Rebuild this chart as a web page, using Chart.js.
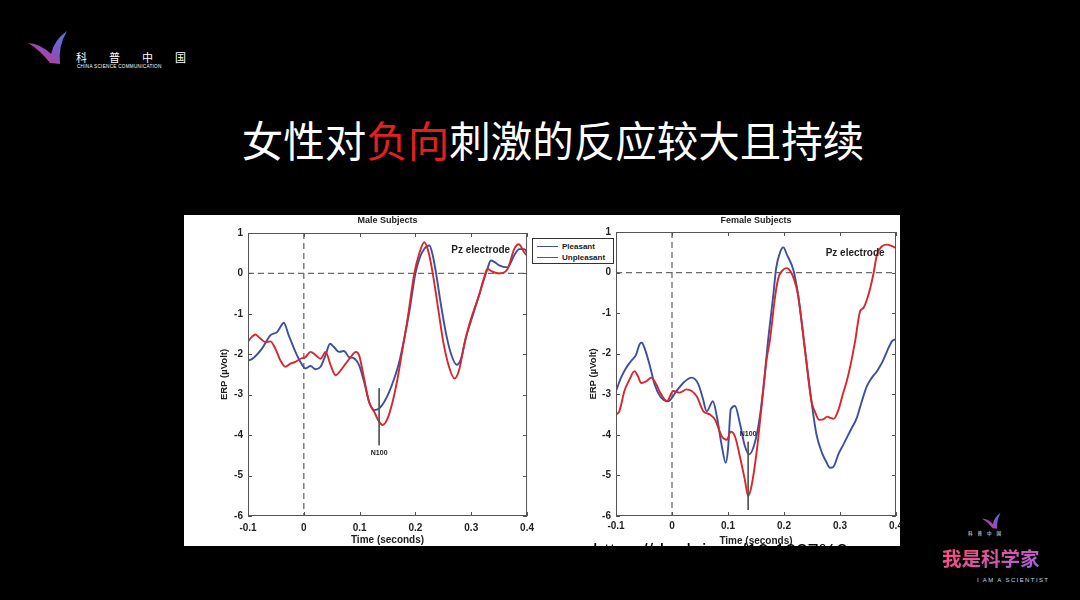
<!DOCTYPE html>
<html>
<head>
<meta charset="utf-8">
<script src="https://cdn.jsdelivr.net/npm/chart.js@4"></script>
<style>
  html, body { margin: 0; padding: 0; background: #000; }
  body { width: 1080px; height: 600px; position: relative; overflow: hidden; font-family: "Liberation Sans", Arial, sans-serif; }
  .title { position: absolute; left: 0; width: 1106px; top: 113px; text-align: center; color: #fff;
           font-family: "Noto Sans CJK SC", sans-serif; font-size: 41.5px; line-height: 52px; }
  .title .neg { color: #e3201f; }
  .panel { position: absolute; left: 184px; top: 215px; width: 716px; height: 331px; background: #fff; overflow: hidden; }
  .panel canvas { position: absolute; top: 0; }
  #maleChart { left: 0; }
  #femaleChart { left: 356px; }
  .url { position: absolute; left: 409px; top: 325px; font-size: 20px; line-height: 22px; color: #000; white-space: nowrap; z-index: 3; }
  .legend { position: absolute; left: 348px; top: 23px; width: 80px; height: 24px; border: 1px solid #333; background: #fff; z-index: 2; }
  .legend div { position: absolute; left: 4px; font: bold 8px "Liberation Sans", Arial, sans-serif; color: #222; white-space: nowrap; }
  .legend span { display: inline-block; width: 21px; height: 0; border-top: 1.5px solid; vertical-align: middle; margin-right: 4px; }
  .logo-txt { position: absolute; color: #fff; white-space: nowrap; line-height: 1; }
</style>
</head>
<body>
<!-- top left logo -->
<svg style="position:absolute;left:24px;top:28px" width="50" height="40" viewBox="0 0 50 40">
  <defs>
    <linearGradient id="wg" x1="0" y1="1" x2="1" y2="0">
      <stop offset="0" stop-color="#e0336f"/>
      <stop offset="0.5" stop-color="#8a4fc0"/>
      <stop offset="1" stop-color="#3f86e8"/>
    </linearGradient>
  </defs>
  <path d="M4,15 Q16,22 26,35 L36,36 Q34,18 43,3 Q30,12 27,26 Q17,16 4,15 Z" fill="url(#wg)"/>
</svg>
<div class="logo-txt" style="left:76px;top:52px;font-family:'Noto Sans CJK SC';font-size:11px;letter-spacing:22px;">科普中国</div>
<div class="logo-txt" style="left:77px;top:65px;font-size:4.6px;letter-spacing:0.3px;">CHINA SCIENCE COMMUNICATION</div>

<div class="title">女性对<span class="neg">负向</span>刺激的反应较大且持续</div>

<div class="panel">
  <canvas id="maleChart" width="356" height="331"></canvas>
  <canvas id="femaleChart" width="380" height="331"></canvas>
  <div class="legend" id="legend"></div>
  <div class="url">https://dx.doi.org/10.1037%2</div>
</div>

<!-- bottom right logo -->
<svg style="position:absolute;left:980px;top:511px" width="24" height="20" viewBox="0 0 50 40">
  <path d="M4,15 Q16,22 26,35 L36,36 Q34,18 43,3 Q30,12 27,26 Q17,16 4,15 Z" fill="url(#wg)"/>
</svg>
<div class="logo-txt" style="left:968px;top:531px;font-family:'Noto Sans CJK SC';font-size:4.5px;letter-spacing:5px;">科普中国</div>
<div class="logo-txt" style="left:942px;top:548px;font-family:'Noto Sans CJK SC';font-weight:700;font-size:19.5px;
  background:linear-gradient(160deg,#f2508c 30%,#9a66e6);-webkit-background-clip:text;background-clip:text;color:transparent;">我是科学家</div>
<div class="logo-txt" style="left:977px;top:577px;font-size:6px;letter-spacing:1.4px;color:#c9d4f0;">I AM A SCIENTIST</div>

<script>
// --- ERP data (time in s, amplitude in µV) ---
const timeTicks = [-0.1, 0, 0.1, 0.2, 0.3, 0.4];
const erpTicks = [1, 0, -1, -2, -3, -4, -5, -6];
const seriesNames = ['Pleasant', 'Unpleasant'];
const seriesColors = ['#3d4f9f', '#d8262c'];

const maleTimesP = [-0.100,-0.093,-0.075,-0.060,-0.048,-0.039,-0.036,-0.027,-0.015,-0.006,0.003,0.012,0.021,0.030,0.039,0.047,0.054,0.063,0.072,0.081,0.090,0.099,0.108,0.117,0.126,0.135,0.144,0.153,0.162,0.171,0.180,0.189,0.200,0.207,0.216,0.225,0.231,0.237,0.246,0.255,0.264,0.274,0.282,0.290,0.299,0.314,0.329,0.335,0.342,0.350,0.365,0.377,0.386,0.395,0.400];
const malePleasant = [-2.15,-2.12,-1.86,-1.53,-1.45,-1.26,-1.22,-1.53,-1.94,-2.19,-2.35,-2.29,-2.37,-2.31,-2.02,-1.74,-1.82,-1.94,-1.92,-2.07,-2.10,-2.27,-2.68,-3.18,-3.38,-3.34,-3.18,-2.93,-2.60,-2.19,-1.61,-0.95,0.0,0.36,0.61,0.69,0.45,0.0,-0.8,-1.5,-2.0,-2.26,-2.1,-1.6,-1.2,-0.54,0.11,0.32,0.28,0.2,0.15,0.45,0.6,0.6,0.52];

const maleTimesU = [-0.100,-0.093,-0.087,-0.078,-0.069,-0.060,-0.051,-0.042,-0.033,-0.024,-0.015,-0.006,0.003,0.012,0.021,0.030,0.039,0.048,0.057,0.066,0.075,0.084,0.093,0.099,0.108,0.117,0.126,0.135,0.141,0.150,0.159,0.168,0.177,0.186,0.198,0.207,0.216,0.224,0.231,0.240,0.250,0.260,0.270,0.278,0.287,0.296,0.305,0.314,0.323,0.329,0.337,0.350,0.365,0.377,0.385,0.395,0.400];
const maleUnpleasant = [-1.68,-1.57,-1.51,-1.61,-1.70,-1.68,-1.86,-2.15,-2.31,-2.23,-2.19,-2.11,-2.07,-1.94,-2.02,-2.11,-1.94,-2.27,-2.52,-2.40,-2.23,-2.07,-1.94,-2.02,-2.60,-3.18,-3.42,-3.67,-3.75,-3.59,-3.18,-2.60,-1.86,-1.12,0.0,0.50,0.77,0.5,0.0,-0.8,-1.7,-2.3,-2.6,-2.4,-1.8,-1.29,-0.9,-0.54,-0.1,0.11,0.05,0.0,0.11,0.6,0.72,0.52,0.44];

const femaleTimesP = [-0.100,-0.091,-0.082,-0.073,-0.064,-0.058,-0.054,-0.049,-0.040,-0.031,-0.021,-0.007,0.008,0.020,0.035,0.047,0.055,0.062,0.073,0.080,0.089,0.096,0.100,0.105,0.1125,0.121,0.130,0.138,0.148,0.157,0.165,0.171,0.181,0.186,0.193,0.199,0.205,0.217,0.225,0.237,0.249,0.258,0.268,0.275,0.282,0.288,0.297,0.306,0.318,0.330,0.339,0.348,0.357,0.366,0.375,0.384,0.393,0.399,0.402];
const femalePleasant = [-2.92,-2.59,-2.35,-2.18,-2.02,-1.77,-1.73,-1.86,-2.27,-2.76,-3.05,-3.17,-2.92,-2.72,-2.59,-2.75,-3.1,-3.42,-3.17,-3.54,-4.28,-4.69,-4.36,-3.37,-3.29,-3.70,-4.27,-4.48,-4.19,-3.54,-2.6,-1.75,-0.54,0.11,0.5,0.62,0.45,0.05,-0.54,-1.85,-3.17,-3.99,-4.45,-4.65,-4.81,-4.79,-4.48,-4.24,-3.91,-3.58,-3.17,-2.80,-2.59,-2.43,-2.22,-1.94,-1.69,-1.65,-1.73];

const femaleTimesU = [-0.100,-0.094,-0.085,-0.076,-0.067,-0.061,-0.055,-0.046,-0.037,-0.028,-0.021,-0.009,0.002,0.014,0.026,0.044,0.056,0.068,0.077,0.089,0.098,0.105,0.1125,0.121,0.130,0.136,0.142,0.151,0.160,0.169,0.175,0.184,0.190,0.197,0.205,0.212,0.217,0.225,0.237,0.249,0.255,0.263,0.270,0.277,0.283,0.289,0.298,0.305,0.312,0.320,0.327,0.336,0.342,0.348,0.354,0.360,0.366,0.375,0.384,0.393,0.400];
const femaleUnpleasant = [-3.50,-3.42,-2.92,-2.64,-2.43,-2.55,-2.72,-2.68,-2.59,-2.76,-2.96,-3.17,-2.92,-2.96,-2.88,-3.05,-3.42,-3.50,-3.63,-4.04,-4.12,-3.92,-4.04,-4.52,-5.10,-5.51,-5.26,-4.44,-3.29,-2.14,-1.65,-0.6,-0.13,0.05,0.11,0.02,-0.13,-0.54,-1.85,-3.17,-3.42,-3.63,-3.62,-3.55,-3.58,-3.6,-3.35,-3.0,-2.68,-2.2,-1.69,-0.95,-0.87,-0.67,-0.38,-0.01,0.44,0.65,0.69,0.65,0.61];

// N100 marker: [time, top, bottom, label value]
const maleN100 = [0.135, -2.84, -4.25, -4.45];
const femaleN100 = [0.136, -4.17, -5.85, -3.97];

const FONT = '"Liberation Sans", Arial, sans-serif';

function toPoints(ts, vs) {
    return ts.map((t, i) => ({ x: t, y: vs[i] }));
}

// box, inward ticks, titles and text labels (MATLAB look)
const matlabAxes = {
    id: 'matlabAxes',
    afterDraw(chart, args, o) {
        const ctx = chart.ctx;
        const a = chart.chartArea;
        const xs = chart.scales.x, ys = chart.scales.y;
        ctx.save();
        ctx.strokeStyle = '#555';
        ctx.lineWidth = 1;
        ctx.strokeRect(a.left + 0.5, a.top + 0.5, a.right - a.left - 1, a.bottom - a.top - 1);
        ctx.beginPath();
        timeTicks.forEach(v => {
            const px = Math.round(xs.getPixelForValue(v)) + 0.5;
            ctx.moveTo(px, a.bottom); ctx.lineTo(px, a.bottom - 4);
            ctx.moveTo(px, a.top); ctx.lineTo(px, a.top + 4);
        });
        erpTicks.forEach(v => {
            const py = Math.round(ys.getPixelForValue(v)) + 0.5;
            ctx.moveTo(a.left, py); ctx.lineTo(a.left + 4, py);
            ctx.moveTo(a.right, py); ctx.lineTo(a.right - 4, py);
        });
        ctx.stroke();

        const cx = (a.left + a.right) / 2;
        ctx.fillStyle = '#222';
        ctx.textAlign = 'center';
        ctx.textBaseline = 'middle';
        ctx.font = 'bold 9px ' + FONT;
        ctx.fillText(o.title, cx, 6);
        ctx.font = 'bold 10px ' + FONT;
        ctx.fillText('Time (seconds)', cx, o.xTitleY);
        ctx.save();
        ctx.translate(o.yTitleX, (a.top + a.bottom) / 2);
        ctx.rotate(-Math.PI / 2);
        ctx.font = 'bold 9.5px ' + FONT;
        ctx.fillText('ERP (\u00b5Volt)', 0, 0);
        ctx.restore();

        ctx.font = 'bold 10px ' + FONT;
        ctx.fillText('Pz electrode', xs.getPixelForValue(o.pz[0]), ys.getPixelForValue(o.pz[1]));
        ctx.font = 'bold 7px ' + FONT;
        ctx.fillText('N100', xs.getPixelForValue(o.n100[0]), ys.getPixelForValue(o.n100[3]));
        ctx.restore();
    }
};

function makeChart(id, timesP, valsP, timesU, valsU, n100, cfg) {
    const dash = { borderColor: '#6a6a6a', borderWidth: 1.3, borderDash: [6, 4], pointRadius: 0, order: 5 };
    return new Chart(document.getElementById(id), {
        type: 'line',
        data: {
            datasets: [
                { label: seriesNames[1], data: toPoints(timesU, valsU), borderColor: seriesColors[1], borderWidth: 1.9, pointRadius: 0, cubicInterpolationMode: 'monotone', order: 1 },
                { label: seriesNames[0], data: toPoints(timesP, valsP), borderColor: seriesColors[0], borderWidth: 1.9, pointRadius: 0, cubicInterpolationMode: 'monotone', order: 2 },
                Object.assign({ data: [{ x: -0.1, y: 0 }, { x: 0.4, y: 0 }] }, dash),
                Object.assign({ data: [{ x: 0, y: 1 }, { x: 0, y: -6 }] }, dash),
                { data: [{ x: n100[0], y: n100[1] }, { x: n100[0], y: n100[2] }], borderColor: '#555', borderWidth: 1, pointRadius: 0, order: 0 }
            ]
        },
        options: {
            responsive: false,
            animation: false,
            events: [],
            layout: { padding: { top: cfg.top, right: cfg.right, left: 0, bottom: 0 } },
            plugins: {
                legend: { display: false },
                tooltip: { enabled: false },
                matlabAxes: cfg
            },
            scales: {
                x: {
                    type: 'linear', min: -0.1, max: 0.4,
                    afterBuildTicks: s => { s.ticks = timeTicks.map(v => ({ value: v })); },
                    afterFit: s => { s.height = 30; },
                    grid: { display: false, drawTicks: false, tickLength: 0 }, border: { display: false },
                    ticks: { padding: cfg.xPad, color: '#222', font: { family: FONT, size: 10, weight: 'bold' }, maxRotation: 0,
                             callback: v => String(Math.round(v * 10) / 10) }
                },
                y: {
                    min: -6, max: 1,
                    afterBuildTicks: s => { s.ticks = erpTicks.map(v => ({ value: v })); },
                    afterFit: s => { s.width = cfg.yWidth; },
                    grid: { display: false, drawTicks: false, tickLength: 0 }, border: { display: false },
                    ticks: { padding: 5, color: '#222', font: { family: FONT, size: 10, weight: 'bold' } }
                }
            }
        },
        plugins: [matlabAxes]
    });
}

makeChart('maleChart', maleTimesP, malePleasant, maleTimesU, maleUnpleasant, maleN100,
    { title: 'Male Subjects', top: 18, right: 12, yWidth: 64, xPad: 6, xTitleY: 325, yTitleX: 40, pz: [0.317, 0.57], n100: maleN100 });
makeChart('femaleChart', femaleTimesP, femalePleasant, femaleTimesU, femaleUnpleasant, femaleN100,
    { title: 'Female Subjects', top: 17, right: 24, yWidth: 76, xPad: 4, xTitleY: 326, yTitleX: 53, pz: [0.327, 0.48], n100: femaleN100 });

// legend built from the series names/colours
const lg = document.getElementById('legend');
seriesNames.forEach((name, i) => {
    const row = document.createElement('div');
    row.style.top = (i === 0 ? 3 : 14) + 'px';
    row.innerHTML = `<span style="border-color:${seriesColors[i]}"></span>${name}`;
    lg.appendChild(row);
});
</script>
</body>
</html>
